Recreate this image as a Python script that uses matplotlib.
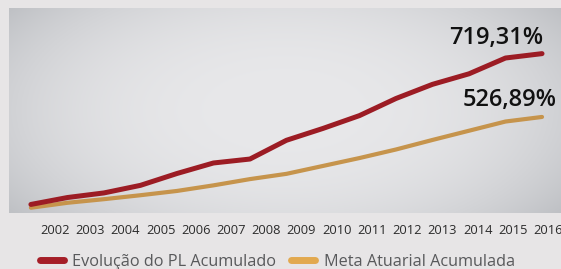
import numpy as np
import matplotlib
matplotlib.use("Agg")
import matplotlib.pyplot as plt
from matplotlib.lines import Line2D

# ---- data ----
years = list(range(2002, 2017))
pl_acumulado = [261, 282, 296, 319, 355, 387, 399, 456, 492, 531, 583, 626, 658, 706, 719.31]
meta_atuarial = [251, 266, 277, 289, 302, 319, 338, 354, 378, 402, 428, 457, 485, 513, 526.89]
tick_labels = [str(y) for y in years]
series_names = ["Evolução do PL Acumulado", "Meta Atuarial Acumulada"]

red = "#9c1c24"
gold = "#c6944c"
legend_red = "#a51e27"
legend_gold = "#e2a94f"
outer_bg = "#e7e5e6"

plt.rcParams["font.family"] = ["Open Sans", "DejaVu Sans"]

W, H = 561, 269
fig = plt.figure(figsize=(W / 100, H / 100), dpi=100, facecolor=outer_bg)
ax = fig.add_axes([9 / W, 1 - 213 / H, 1 - 9 / W, (213 - 8) / H])

# radial gradient panel
gx, gy = np.meshgrid(np.linspace(-1, 1, 300), np.linspace(-1, 1, 150))
r = np.clip(np.sqrt((gx * 0.95) ** 2 + (gy * 0.7) ** 2) / 1.2, 0, 1)
c_mid = np.array([0xe8, 0xe8, 0xea]) / 255
c_edge = np.array([0xbd, 0xbf, 0xc3]) / 255
t = r[..., None] ** 2.6
img = c_mid + (c_edge - c_mid) * t
ax.imshow(img, extent=[0, 1, 0, 1], transform=ax.transAxes, aspect="auto", zorder=0)

ax.plot(years, meta_atuarial, color=gold, lw=3.0, solid_capstyle="round", zorder=2)
ax.plot(years, pl_acumulado, color=red, lw=3.6, solid_capstyle="round", zorder=3)

x0, x1 = 2001.4, 2016.52
ax.set_xlim(x0, x1)
ax.set_ylim(235, 858)
ax.set_yticks([])

# the year labels sit as a separate row, a bit narrower than the line spacing
px_first, px_last = 55, 548
def px_to_x(px):
    return x0 + (px - 9) / (W - 9) * (x1 - x0)
n = len(years)
tick_pos = [px_to_x(px_first + (px_last - px_first) * i / (n - 1)) for i in range(n)]
ax.set_xticks(tick_pos)
ax.set_xticklabels(tick_labels, fontsize=9.3, color="#2b2b2b")
ax.tick_params(axis="x", length=0, pad=8)
for s in ax.spines.values():
    s.set_visible(False)

def fmt(v):
    return f"{v:.2f}".replace(".", ",") + "%"

ax.annotate(fmt(pl_acumulado[-1]), (years[-1], pl_acumulado[-1]),
            xytext=(1, 16), textcoords="offset pixels", ha="right", va="center",
            fontsize=17, fontweight="semibold", color="#111111", zorder=4)
ax.annotate(fmt(meta_atuarial[-1]), (years[-1], meta_atuarial[-1]),
            xytext=(15, 17), textcoords="offset pixels", ha="right", va="center",
            fontsize=17, fontweight="semibold", color="#111111", zorder=4,
            annotation_clip=False)

handles = [Line2D([], [], color=legend_red, lw=5, solid_capstyle="round"),
           Line2D([], [], color=legend_gold, lw=5, solid_capstyle="round")]
fig.legend(handles, series_names, loc="center left", bbox_to_anchor=(40 / W, 1 - 262 / H),
           ncol=2, frameon=False, fontsize=11.7, labelcolor="#58595b",
           handlelength=1.45, handletextpad=0.55, columnspacing=0.9, borderpad=0, borderaxespad=0)

fig.savefig("out.png", dpi=100, facecolor=outer_bg)
